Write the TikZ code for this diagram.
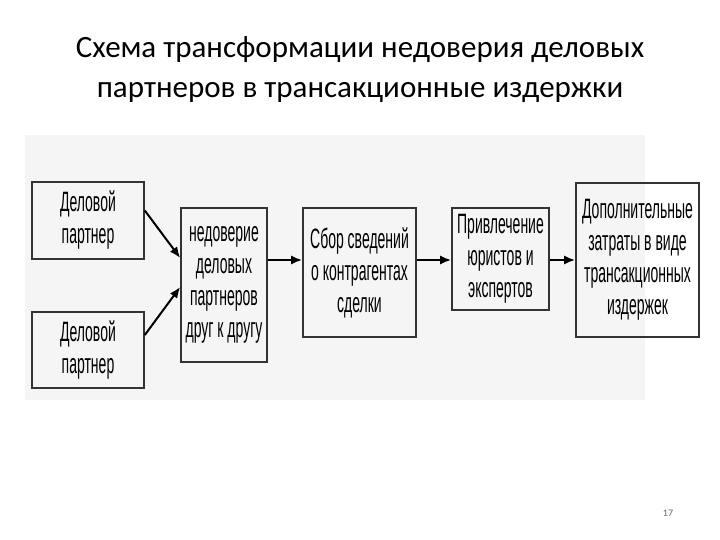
\documentclass[tikz,border=0pt]{standalone}
\usepackage{fontspec}
\setmainfont{Carlito}
\newfontfamily\boxfont[FakeStretch=0.5]{Liberation Sans}
\usetikzlibrary{arrows.meta,calc}

\tikzset{
  blok/.style={draw=black!80,line width=1.6pt,inner sep=2pt,align=center,
    font=\boxfont\fontsize{28}{32}\selectfont},
  strel/.style={line width=2pt,-{Latex[length=11pt,width=9pt]}}
}

\begin{document}
\begin{tikzpicture}[x=1pt,y=-1pt]
\useasboundingbox (0,0) rectangle (720,540);
\fill[black!4] (25,135) rectangle (645,400);
\node[font=\fontsize{31}{40}\selectfont,align=center] (title) at (360,70) {Схема трансформации недоверия деловых\\партнеров в трансакционные издержки};
% bloki
\node[blok,minimum width=112pt,minimum height=77pt] (p1) at (88,220.5) {Деловой\\партнер};
\node[blok,minimum width=112pt,minimum height=76pt] (p2) at (88,350) {Деловой\\партнер};
\node[blok,minimum width=86pt,minimum height=154pt] (ned) at (224,285) {недоверие\\деловых\\партнеров\\друг к другу};
\node[blok,minimum width=113pt,minimum height=129pt] (sbor) at (359.5,272.5) {Сбор сведений\\о контрагентах\\сделки};
\node[blok,minimum width=97pt,minimum height=102pt] (jur) at (500.5,259) {Привлечение\\юристов и\\экспертов};
\node[blok,minimum width=123pt,minimum height=154pt] (izd) at (637.5,260) {Дополнительные\\затраты в виде\\трансакционных\\издержек};
% strelki
\draw[strel] ([yshift=10pt]p1.east) -- ([yshift=27pt]ned.west);
\draw[strel] ([yshift=15pt]p2.east) -- ([yshift=-2pt]ned.west);
\draw[strel] ([yshift=25pt]ned.east) coordinate (a1) -- (a1 -| sbor.west);
\draw[strel] ([yshift=12.5pt]sbor.east) coordinate (a2) -- (a2 -| jur.west);
\draw[strel] ([yshift=-1pt]jur.east) coordinate (a3) -- (a3 -| izd.west);
\node[font=\fontsize{10}{12}\selectfont,text=black!60] (num) at (668,513) {17};
\end{tikzpicture}
\end{document}
